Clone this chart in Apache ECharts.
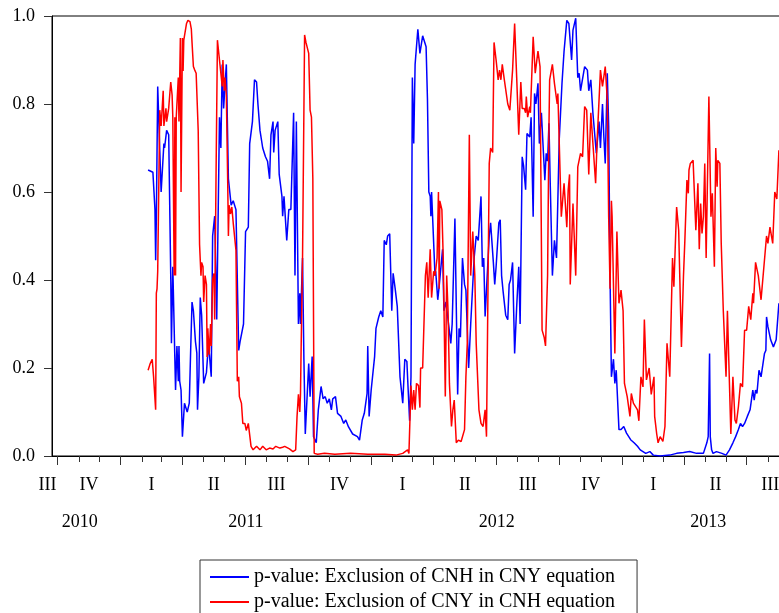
<!DOCTYPE html>
<html>
<head>
<meta charset="utf-8">
<script src="https://cdn.jsdelivr.net/npm/echarts@6/dist/echarts.min.js"></script>
<style>
html,body{margin:0;padding:0;background:#fff;}
#chart{width:779px;height:613px;}
</style>
</head>
<body>
<div id="chart"></div>
<script>
// ---- data: observation day (days since 2011-01-01) and p-values ----
const cnhInCnyDay = [40,42,47,50,51,52,54,59,63,64,67,70,73,74,76,80,82,84,85,86,88,90,93,97,100,102,104,106,109,111,112,114,116,118,121,125,128,132,134,137,140,144,146,148,150,154,157,161,164,168,172,174,179,182,186,188,192,195,198,200,203,207,211,214,217,219,222,223,225,229,231,235,236,238,242,245,248,252,254,256,259,261,262,265,267,269,274,276,279,281,285,288,292,295,298,301,304,307,309,313,316,321,325,328,332,338,345,348,352,355,359,360,362,365,370,372,376,379,382,384,387,389,392,395,397,400,403,405,407,411,414,417,418,421,423,425,427,429,433,436,440,445,447,449,451,452,453,458,459,462,464,469,471,474,481,483,487,491,493,495,498,501,503,507,510,515,518,521,525,527,529,531,537,539,543,545,547,551,553,555,557,561,564,566,568,571,574,577,580,582,585,587,590,592,596,598,601,603,605,608,610,613,616,618,620,622,624,626,629,632,635,639,643,646,650,653,657,659,663,666,668,670,672,676,680,682,685,688,691,693,697,699,702,704,706,709,711,713,715,718,720,722,726,729,733,737,743,748,753,757,765,767,771,776,786,800,810,820,829,839,849,854,856,858,859,861,863,868,876,882,887,892,896,900,903,906,909,913,917,921,923,925,927,930,933,938,940,941,943,947,951,955,959];
const cnhInCnyP = [0.65,0.646,0.645,0.56,0.445,0.54,0.84,0.60,0.71,0.70,0.74,0.73,0.41,0.256,0.43,0.15,0.25,0.17,0.25,0.17,0.15,0.044,0.12,0.10,0.12,0.24,0.35,0.33,0.26,0.234,0.105,0.18,0.36,0.32,0.165,0.19,0.256,0.18,0.50,0.545,0.31,0.77,0.70,0.89,0.79,0.89,0.63,0.57,0.58,0.56,0.24,0.26,0.30,0.51,0.52,0.71,0.76,0.855,0.85,0.80,0.74,0.70,0.68,0.67,0.63,0.73,0.76,0.69,0.74,0.76,0.64,0.59,0.545,0.59,0.49,0.56,0.56,0.78,0.41,0.76,0.30,0.37,0.30,0.45,0.22,0.05,0.21,0.135,0.226,0.044,0.03,0.105,0.158,0.13,0.135,0.12,0.13,0.105,0.13,0.135,0.097,0.09,0.074,0.082,0.066,0.05,0.044,0.036,0.082,0.097,0.142,0.25,0.09,0.15,0.226,0.29,0.316,0.33,0.316,0.49,0.48,0.50,0.505,0.33,0.415,0.38,0.34,0.34,0.18,0.12,0.22,0.215,0.18,0.08,0.18,0.86,0.71,0.89,0.97,0.915,0.955,0.93,0.81,0.60,0.59,0.545,0.60,0.41,0.42,0.355,0.385,0.47,0.33,0.35,0.256,0.30,0.54,0.14,0.29,0.27,0.45,0.39,0.377,0.20,0.30,0.45,0.50,0.49,0.59,0.43,0.45,0.317,0.50,0.53,0.44,0.39,0.43,0.53,0.537,0.41,0.377,0.32,0.31,0.39,0.40,0.44,0.233,0.34,0.43,0.30,0.68,0.66,0.605,0.733,0.725,0.77,0.544,0.824,0.80,0.847,0.71,0.78,0.688,0.627,0.688,0.67,0.756,0.61,0.41,0.49,0.45,0.72,0.847,0.92,0.99,0.983,0.90,0.968,0.995,0.86,0.87,0.83,0.83,0.885,0.877,0.83,0.855,0.78,0.725,0.688,0.76,0.70,0.80,0.725,0.665,0.87,0.75,0.41,0.18,0.22,0.165,0.195,0.06,0.06,0.067,0.052,0.037,0.03,0.022,0.014,0.006,0.01,0.01,0.002,0.0,0.002,0.006,0.008,0.01,0.006,0.006,0.03,0.044,0.233,0.044,0.014,0.006,0.01,0.006,0.002,0.014,0.03,0.044,0.06,0.074,0.067,0.074,0.09,0.105,0.15,0.127,0.15,0.142,0.195,0.18,0.233,0.24,0.316,0.294,0.264,0.248,0.264,0.347];

const cnyInCnhDay = [40,43,46,48,51,52,53,54,57,59,62,63,66,67,70,73,75,76,78,79,80,81,83,84,85,87,88,90,91,92,94,96,98,101,103,104,106,108,110,113,115,117,118,120,121,123,125,126,127,129,131,132,134,136,137,139,141,143,144,146,148,149,151,152,154,156,157,158,160,162,164,166,168,170,172,173,176,178,181,183,186,188,190,193,198,203,207,212,217,222,226,232,236,239,246,251,255,257,259,261,262,263,265,268,270,272,274,276,278,280,282,287,297,312,335,360,385,401,411,418,420,423,425,427,429,431,434,436,437,440,444,446,448,451,453,456,458,461,463,464,465,468,470,473,475,477,479,482,484,486,489,492,496,498,501,503,505,508,510,513,516,518,522,525,528,531,533,537,539,542,544,547,550,552,554,556,559,564,567,571,574,577,580,583,585,588,590,591,593,596,597,601,604,608,611,614,617,619,622,624,625,629,632,636,637,642,646,650,652,654,655,659,663,666,670,673,676,679,682,685,692,694,699,702,706,709,711,713,715,716,720,723,726,729,732,734,738,742,744,747,753,755,758,761,763,766,770,773,777,778,781,783,786,790,793,796,800,804,806,810,813,817,820,822,825,827,828,830,834,838,841,843,845,847,849,851,853,857,860,862,865,867,869,870,873,875,878,882,884,889,892,895,897,900,903,906,909,912,915,918,921,922,925,929,933,941,943,946,950,953,956,959];
const cnyInCnhP = [0.195,0.21,0.22,0.18,0.105,0.37,0.38,0.42,0.786,0.75,0.83,0.75,0.79,0.76,0.79,0.85,0.82,0.77,0.41,0.77,0.41,0.77,0.77,0.86,0.76,0.95,0.60,0.95,0.875,0.945,0.945,0.983,0.99,0.987,0.97,0.94,0.885,0.877,0.87,0.74,0.48,0.41,0.44,0.43,0.35,0.41,0.39,0.225,0.29,0.23,0.30,0.25,0.40,0.415,0.31,0.64,0.945,0.945,0.90,0.90,0.84,0.90,0.83,0.86,0.82,0.62,0.50,0.57,0.55,0.566,0.53,0.53,0.468,0.17,0.18,0.135,0.12,0.074,0.074,0.058,0.074,0.074,0.022,0.014,0.022,0.014,0.022,0.014,0.018,0.016,0.022,0.018,0.02,0.022,0.016,0.01,0.014,0.09,0.14,0.10,0.14,0.25,0.45,0.957,0.94,0.94,0.915,0.786,0.77,0.63,0.006,0.004,0.006,0.004,0.006,0.004,0.004,0.002,0.006,0.014,0.006,0.16,0.105,0.15,0.105,0.165,0.16,0.11,0.20,0.20,0.41,0.44,0.36,0.47,0.36,0.42,0.41,0.45,0.60,0.38,0.58,0.56,0.45,0.135,0.41,0.33,0.165,0.067,0.105,0.127,0.03,0.036,0.033,0.036,0.06,0.18,0.256,0.73,0.41,0.51,0.41,0.256,0.105,0.074,0.067,0.105,0.044,0.665,0.70,0.69,0.94,0.90,0.855,0.877,0.855,0.89,0.855,0.80,0.786,0.877,0.983,0.86,0.73,0.85,0.79,0.79,0.78,0.817,0.77,0.794,0.78,0.953,0.87,0.92,0.885,0.286,0.27,0.25,0.41,0.75,0.855,0.89,0.847,0.80,0.824,0.544,0.62,0.52,0.604,0.64,0.39,0.574,0.41,0.657,0.688,0.68,0.794,0.786,0.64,0.78,0.62,0.71,0.877,0.84,0.885,0.81,0.544,0.38,0.58,0.544,0.233,0.51,0.347,0.377,0.33,0.165,0.135,0.09,0.142,0.12,0.105,0.08,0.18,0.157,0.31,0.173,0.20,0.14,0.18,0.09,0.05,0.03,0.044,0.033,0.067,0.256,0.18,0.45,0.385,0.566,0.513,0.248,0.41,0.49,0.627,0.597,0.65,0.665,0.672,0.513,0.62,0.47,0.574,0.506,0.544,0.665,0.45,0.817,0.544,0.597,0.43,0.70,0.612,0.672,0.665,0.483,0.33,0.18,0.33,0.05,0.18,0.082,0.074,0.112,0.165,0.157,0.286,0.286,0.34,0.31,0.37,0.347,0.44,0.41,0.355,0.50,0.483,0.52,0.483,0.60,0.584,0.695];

const seriesNames = ['p-value: Exclusion of CNH in CNY equation', 'p-value: Exclusion of CNY in CNH equation'];

// ---- axis labels ----
const axisStartDate = '2010-09-23';
const sampleStartDate = '2010-09-04';
const sampleEndDate = '2013-09-08';
const quarterStarts = ['2010-10-01','2011-01-01','2011-04-01','2011-07-01','2011-10-01','2012-01-01','2012-04-01','2012-07-01','2012-10-01','2013-01-01','2013-04-01','2013-07-01'];
const quarterLabels = ['III','IV','I','II','III','IV','I','II','III','IV','I','II','III'];
const yearStarts = ['2011-01-01','2012-01-01','2013-01-01'];
const yearLabels = ['2010','2011','2012','2013'];
const yTickLabels = ['0.0','0.2','0.4','0.6','0.8','1.0'];

// ---- build (x axis measured in days since 2011-01-01) ----
const DAY = 86400000;
const ORIGIN = Date.UTC(2011, 0, 1);
const dayOf = s => Math.round((Date.parse(s + 'T00:00:00Z') - ORIGIN) / DAY);

const xMin = dayOf(axisStartDate);
const xMax = dayOf(sampleEndDate);
const qDays = quarterStarts.map(dayOf);

const qLabelPos = [xMin];
for (let i = 0; i < qDays.length; i++) {
  const end = i + 1 < qDays.length ? qDays[i + 1] : xMax;
  qLabelPos.push((qDays[i] + end) / 2);
}
const yBounds = [dayOf(sampleStartDate)].concat(yearStarts.map(dayOf), [xMax]);
const yLabelPos = [];
for (let i = 0; i < yBounds.length - 1; i++) yLabelPos.push((yBounds[i] + yBounds[i + 1]) / 2);

const monthTicks = [];
for (let y = 2010; y <= 2013; y++) {
  for (let m = 0; m < 12; m++) {
    const d = Math.round((Date.UTC(y, m, 1) - ORIGIN) / DAY);
    if (d > xMin && d < xMax && qDays.indexOf(d) < 0) monthTicks.push(d);
  }
}

function nearestIndex(v, positions) {
  let best = 0, bd = Infinity;
  for (let i = 0; i < positions.length; i++) {
    const d = Math.abs(positions[i] - v);
    if (d < bd) { bd = d; best = i; }
  }
  return best;
}

const FONT = 'Liberation Serif';
const blueData = cnhInCnyDay.map((d, i) => [d, cnhInCnyP[i]]);
const redData = cnyInCnhDay.map((d, i) => [d, cnyInCnhP[i]]);

const baseX = { type: 'value', gridIndex: 0, min: xMin, max: xMax, position: 'bottom', splitLine: { show: false } };

const chart = echarts.init(document.getElementById('chart'), null, { renderer: 'canvas' });
chart.setOption({
  animation: false,
  backgroundColor: '#fff',
  grid: { left: 52, right: -15, top: 16, bottom: 157, show: true, borderColor: '#000', borderWidth: 1,
          containLabel: false, outerBoundsMode: 'none' },
  legend: {
    data: seriesNames,
    orient: 'vertical',
    left: 200, top: 560,
    height: 120,
    padding: [7, 22, 12, 10],
    itemGap: 5,
    itemWidth: 39, itemHeight: 2,
    icon: 'rect',
    borderColor: '#333', borderWidth: 1,
    textStyle: { fontFamily: FONT, fontSize: 20, color: '#000', lineHeight: 19 }
  },
  xAxis: [
    Object.assign({}, baseX, {
      axisLine: { show: true, onZero: false, lineStyle: { color: '#000', width: 1 } },
      axisTick: { show: true, customValues: qDays, length: 9, lineStyle: { color: '#333' } },
      axisLabel: {
        show: true, customValues: qLabelPos, margin: 20,
        fontFamily: FONT, fontSize: 18, color: '#000',
        formatter: function (v) {
          const i = nearestIndex(v, qLabelPos);
          return i === 0 ? '{s|' + quarterLabels[0] + '}' : quarterLabels[i];
        },
        rich: { s: { fontFamily: FONT, fontSize: 18, color: '#000', padding: [0, 9, 0, 0] } }
      }
    }),
    Object.assign({}, baseX, {
      axisLine: { show: false, onZero: false },
      axisTick: { show: true, customValues: monthTicks, length: 6, lineStyle: { color: '#333' } },
      axisLabel: { show: false }
    }),
    Object.assign({}, baseX, {
      axisLine: { show: false, onZero: false },
      axisTick: { show: false },
      axisLabel: {
        show: true, customValues: yLabelPos, margin: 57,
        fontFamily: FONT, fontSize: 18, color: '#000',
        formatter: function (v) { return yearLabels[nearestIndex(v, yLabelPos)]; }
      }
    })
  ],
  yAxis: {
    type: 'value', min: 0, max: 1, interval: 0.2,
    splitLine: { show: false },
    axisLine: { show: true, onZero: false, lineStyle: { color: '#000', width: 1 } },
    axisTick: { show: true, length: 8, lineStyle: { color: '#333' } },
    axisLabel: {
      margin: 17, fontFamily: FONT, fontSize: 18, color: '#000',
      formatter: function (v) { return yTickLabels[Math.round(v / 0.2)]; }
    }
  },
  series: [
    { name: seriesNames[0], type: 'line', xAxisIndex: 0, data: blueData, showSymbol: false, symbol: 'none',
      lineStyle: { color: '#0000FF', width: 1.5 }, itemStyle: { color: '#0000FF' } },
    { name: seriesNames[1], type: 'line', xAxisIndex: 0, data: redData, showSymbol: false, symbol: 'none',
      lineStyle: { color: '#FF0000', width: 1.5 }, itemStyle: { color: '#FF0000' } }
  ]
});
</script>
</body>
</html>
